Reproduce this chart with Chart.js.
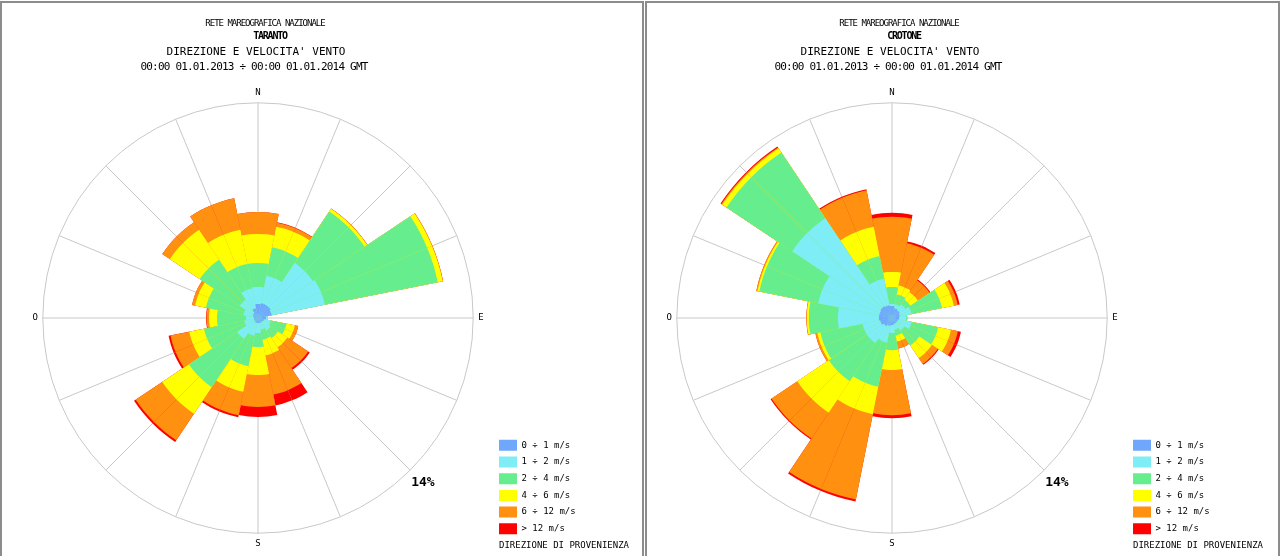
<!DOCTYPE html>
<html>
<head>
<meta charset="utf-8">
<title>Rete Mareografica Nazionale - Direzione e velocità vento</title>
<script src="https://cdn.jsdelivr.net/npm/chart.js@4.4.1/dist/chart.umd.min.js"></script>
<style>
  html, body { margin:0; padding:0; background:#fff; }
  body { width:1280px; height:556px; position:relative; overflow:hidden; }
  .frame { position:absolute; top:1px; height:600px; border:2px solid #8c8c8c; box-sizing:border-box; pointer-events:none; z-index:3; }
  .cv { position:absolute; top:0; width:640px; height:556px; }
  .hl { position:absolute; width:400px; text-align:center; white-space:pre; font-family:"DejaVu Sans Mono", monospace; color:#000; line-height:1; z-index:2; }
  .cap { position:absolute; font-family:"DejaVu Sans Mono", monospace; font-size:9px; line-height:1; color:#000; white-space:pre; z-index:2; }
</style>
</head>
<body>
<div class="frame" style="left:0; width:644px;"></div>
<div class="frame" style="left:645px; width:635px;"></div>
<div class="cv" style="left:0"><canvas id="c1" width="640" height="556"></canvas></div>
<div class="cv" style="left:634px"><canvas id="c2" width="640" height="556"></canvas></div>
<div id="texts"></div>
<script>
// ---------------- DATA ----------------
const directions = ['N','NNE','NE','ENE','E','ESE','SE','SSE','S','SSW','SW','WSW','W','WNW','NW','NNW'];
const cardinalLabels = ['N', 'E', 'S', 'O'];
const speedClasses = ['0 \u00f7 1 m/s', '1 \u00f7 2 m/s', '2 \u00f7 4 m/s', '4 \u00f7 6 m/s', '6 \u00f7 12 m/s', '> 12 m/s'];
const classColors = ['#6fa7fc', '#7eedf5', '#66ee8e', '#ffff00', '#ff9010', '#ff0000'];
const radialMax = 14;
const radialMaxLabel = '14%';

const networkTitle = 'RETE MAREOGRAFICA NAZIONALE';
const stationNames = ['TARANTO', 'CROTONE'];
const chartSubtitle = "DIREZIONE E VELOCITA' VENTO";
const periodLabel = '00:00 01.01.2013 \u00f7 00:00 01.01.2014 GMT';
const directionNote = 'DIREZIONE DI PROVENIENZA';

// TARANTO - frequency (%) per direction (N, NNE, ... NNW) for each speed class
const taranto0to1  = [0.91, 0.98, 0.98, 0.91, 0.52, 0.39, 0.33, 0.33, 0.33, 0.33, 0.26, 0.26, 0.26, 0.33, 0.39, 0.65];
const taranto1to2  = [1.11, 1.82, 3.32, 3.52, 0.10, 0.46, 0.65, 0.46, 0.65, 0.85, 1.37, 0.65, 0.52, 0.65, 1.04, 1.30];
const taranto2to4  = [1.56, 1.89, 4.04, 7.49, 0.00, 1.04, 0.59, 0.65, 0.91, 2.02, 3.78, 2.67, 1.89, 2.47, 3.13, 1.63];
const taranto4to6  = [1.89, 1.37, 0.20, 0.33, 0.00, 0.55, 0.72, 1.04, 1.82, 1.69, 2.08, 0.98, 0.52, 0.72, 2.34, 2.28];
const taranto6to12 = [1.43, 0.26, 0.03, 0.03, 0.00, 0.23, 1.63, 2.60, 2.08, 1.56, 2.08, 1.24, 0.16, 0.20, 0.59, 2.08];
const tarantoOver12 = [0.00, 0.03, 0.00, 0.00, 0.00, 0.00, 0.13, 0.72, 0.65, 0.13, 0.13, 0.13, 0.03, 0.00, 0.00, 0.00];

// CROTONE - frequency (%) per direction (N, NNE, ... NNW) for each speed class
const crotone0to1  = [0.78, 0.65, 0.59, 0.52, 0.46, 0.39, 0.39, 0.39, 0.46, 0.52, 0.65, 0.78, 0.85, 0.85, 0.91, 0.85];
const crotone1to2  = [0.13, 0.26, 0.46, 0.78, 0.46, 0.91, 0.59, 0.39, 0.52, 1.11, 1.30, 1.17, 2.67, 4.04, 6.90, 1.76];
const crotone2to4  = [1.11, 0.65, 0.39, 2.02, 0.07, 1.76, 1.17, 0.39, 1.11, 2.93, 2.99, 2.80, 1.89, 3.91, 5.14, 1.50];
const crotone4to6  = [0.98, 0.59, 0.59, 0.78, 0.00, 0.85, 0.98, 0.39, 1.30, 1.82, 2.47, 0.20, 0.13, 0.13, 0.33, 1.95];
const crotone6to12 = [3.58, 2.80, 0.91, 0.26, 0.00, 0.46, 0.46, 0.46, 2.93, 5.66, 2.02, 0.13, 0.03, 0.07, 0.07, 2.41];
const crotoneOver12 = [0.26, 0.13, 0.07, 0.13, 0.00, 0.20, 0.07, 0.00, 0.20, 0.13, 0.07, 0.00, 0.00, 0.00, 0.07, 0.07];

// ---------------- BUILD ----------------
const HALF = 2; // each 22.5 deg direction sector is drawn as two 11.25 deg halves so spokes fall at sector centres
const slotCount = directions.length * HALF;

function buildLabels() {
  const out = [];
  for (let i = 0; i < slotCount; i++) out.push(directions[Math.floor(i / HALF)]);
  return out;
}
function pointLabelText(index) {
  // spokes at odd slot indices: N=1, E=9, S=17, O=25
  if (index % 2 === 1) {
    const dirIdx = (index - 1) / 2;
    if (dirIdx % 4 === 0) return cardinalLabels[dirIdx / 4];
  }
  return '';
}
function buildDatasets(classArrays) {
  return speedClasses.map((label, k) => {
    const data = [];
    for (let i = 0; i < slotCount; i++) {
      const dir = Math.floor(i / HALF);
      let cum = 0;
      for (let j = 0; j <= k; j++) cum += classArrays[j][dir];
      data.push(+cum.toFixed(3));
    }
    return { label, data, backgroundColor: classColors[k], borderWidth: 0 };
  });
}

const percentLabelPlugin = {
  id: 'percentLabel',
  afterDraw(chart, args, opts) {
    const r = chart.scales.r;
    const p = r.getPointPosition(opts.index, r.getDistanceFromCenterForValue(radialMax) * opts.distance);
    const ctx = chart.ctx;
    ctx.save();
    ctx.font = opts.font;
    ctx.fillStyle = '#000';
    ctx.textAlign = 'center';
    ctx.textBaseline = 'middle';
    ctx.fillText(opts.text, p.x, p.y);
    ctx.restore();
  }
};
const legendLiftPlugin = {
  id: 'legendLift',
  afterLayout(chart, args, opts) {
    const l = chart.legend;
    if (l) { l.top -= opts.lift; l.bottom -= opts.lift; }
  }
};

function makeChart(canvasId, classArrays) {
  return new Chart(document.getElementById(canvasId), {
    type: 'polarArea',
    data: { labels: buildLabels(), datasets: buildDatasets(classArrays) },
    plugins: [percentLabelPlugin, legendLiftPlugin],
    options: {
      responsive: false,
      animation: false,
      events: [],
      layout: { padding: { top: 87, bottom: 7, left: 24.5, right: 54.3 } },
      scales: {
        r: {
          min: 0,
          max: radialMax,
          startAngle: -11.25,
          ticks: { display: false, stepSize: radialMax },
          grid: { display: true, circular: true, color: '#c8c8c8', lineWidth: 1 },
          angleLines: { display: true, lineWidth: 1, color: ctx => (ctx.index % 2 === 1 ? '#c8c8c8' : 'rgba(0,0,0,0)') },
          pointLabels: {
            display: true,
            padding: 5,
            color: '#000',
            font: { family: '"DejaVu Sans Mono", monospace', size: 9 },
            callback: (label, index) => pointLabelText(index)
          }
        }
      },
      plugins: {
        title: { display: false },
        tooltip: { enabled: false },
        legend: {
          display: true,
          position: 'right',
          align: 'end',
          labels: {
            boxWidth: 18,
            boxHeight: 11,
            padding: 5.7,
            color: '#000',
            font: { family: '"DejaVu Sans Mono", monospace', size: 9 },
            generateLabels: chart => chart.data.datasets.map((ds, i) => ({
              text: ds.label, fillStyle: ds.backgroundColor, strokeStyle: ds.backgroundColor,
              lineWidth: 0, hidden: false, datasetIndex: i, fontColor: '#000'
            }))
          }
        },
        percentLabel: { index: 13, distance: 1.084, text: radialMaxLabel, font: 'bold 13px "DejaVu Sans Mono", monospace' },
        legendLift: { lift: 9 }
      }
    }
  });
}

makeChart('c1', [taranto0to1, taranto1to2, taranto2to4, taranto4to6, taranto6to12, tarantoOver12]);
makeChart('c2', [crotone0to1, crotone1to2, crotone2to4, crotone4to6, crotone6to12, crotoneOver12]);

// ---------------- HEADER / NOTE TEXT ----------------
const panelOffsets = [0, 634];
const texts = document.getElementById('texts');
function addLine(cls, text, cx, top, style) {
  const d = document.createElement('div');
  d.className = cls;
  d.textContent = text;
  d.style.cssText = style + ';top:' + top + 'px;' + (cls === 'hl' ? 'left:' + (cx - 200) + 'px' : 'left:' + cx + 'px');
  texts.appendChild(d);
}
panelOffsets.forEach((off, i) => {
  addLine('hl', networkTitle, off + 265, 19, 'font-size:9px;letter-spacing:-1px');
  addLine('hl', stationNames[i], off + 270, 31, 'font-size:10px;font-weight:bold;letter-spacing:-1.2px');
  addLine('hl', chartSubtitle, off + 256, 46, 'font-size:11px');
  addLine('hl', periodLabel, off + 254, 61, 'font-size:11px;letter-spacing:-0.8px');
  addLine('cap', directionNote, off + 499, 541, '');
});
</script>
</body>
</html>
